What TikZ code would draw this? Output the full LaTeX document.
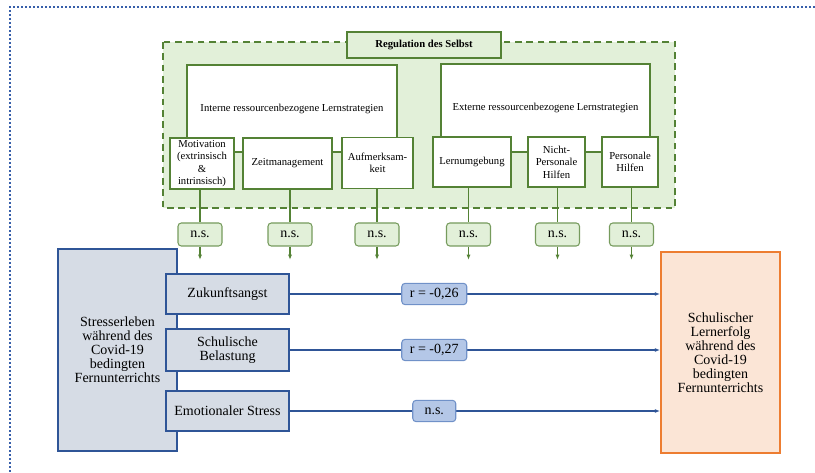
\documentclass[tikz,border=0pt]{standalone}
\usepackage{fontspec}
\setmainfont{Liberation Serif}
\usetikzlibrary{arrows.meta}

\definecolor{grnline}{RGB}{84,130,53}
\definecolor{grnfill}{RGB}{226,240,217}
\definecolor{bluline}{RGB}{47,85,151}
\definecolor{blufill}{RGB}{214,220,229}
\definecolor{lblfill}{RGB}{180,199,231}
\definecolor{lblline}{RGB}{112,145,200}
\definecolor{orgline}{RGB}{237,125,49}
\definecolor{orgfill}{RGB}{251,229,214}
\definecolor{pageline}{RGB}{55,95,170}

\tikzset{
  topfont/.style={font=\fontsize{8}{9.4}\selectfont},
  lowfont/.style={font=\fontsize{10.5}{10.5}\selectfont},
  groupbox/.style={draw=grnline, line width=1.1pt, fill=white, topfont, inner sep=0pt},
  stratbox/.style={draw=grnline, line width=1.1pt, fill=white, topfont, align=center, inner sep=0pt},
  nsgreen/.style={draw=grnline!80, line width=0.8pt, fill=grnfill, rounded corners=2.5pt, lowfont,
    minimum width=33pt, minimum height=17.25pt, inner sep=0pt},
  grnarrow/.style={draw=grnline, line width=0.9pt, -{Latex[length=4pt,width=3pt]}},
  stressbox/.style={draw=bluline, line width=1.3pt, fill=blufill, lowfont, align=center, inner sep=0pt},
  corrlabel/.style={draw=lblline, line width=0.8pt, fill=lblfill, rounded corners=2.5pt, lowfont,
    minimum height=16pt, inner sep=0pt},
  bluarrow/.style={draw=bluline, line width=0.9pt, -{Latex[length=4pt,width=3pt]}},
}

\begin{document}
\begin{tikzpicture}[x=0.75pt,y=0.75pt,yscale=-1,xscale=1]
\useasboundingbox (0,0) rectangle (815,473);

%Page frame (dotted)
\draw [pageline, line width=1.5pt, dash pattern=on 1.5pt off 1.5pt] (815,7) -- (10,7) -- (10,473) ;

%Dashed area: Regulation des Selbst
\draw [grnline, line width=1.1pt, dash pattern=on 5pt off 3.5pt, fill=grnfill] (163,42) rectangle (675,208) ;

% Title Node
\node (reg) at (424,45) [draw=grnline, line width=1pt, fill=grnfill, topfont, minimum width=115.5pt, minimum height=19.5pt, inner sep=0pt] {\textbf{Regulation des Selbst}};

% Group boxes
\node (intern) at (292,108.5) [groupbox, minimum width=157.5pt, minimum height=65.25pt] {Interne ressourcenbezogene Lernstrategien};
\node (extern) at (545.5,108) [groupbox, minimum width=156.75pt, minimum height=66pt] {Externe ressourcenbezogene Lernstrategien};

% Strategy Nodes
\node (motiv) at (202,163.5) [stratbox, minimum width=48pt, minimum height=38.25pt] {Motivation\\(extrinsisch\\\&\\intrinsisch)};
\node (zeit) at (287.5,163.5) [stratbox, minimum width=66.75pt, minimum height=38.25pt] {Zeitmanagement};
\node (aufm) at (377.5,163) [stratbox, minimum width=53.25pt, minimum height=38.25pt] {Aufmerksam-\\keit};
\node (lernumg) at (472,162) [stratbox, minimum width=58.5pt, minimum height=37.5pt] {Lernumgebung};
\node (nichtpers) at (556.5,162) [stratbox, minimum width=42.75pt, minimum height=37.5pt] {Nicht-\\Personale\\Hilfen};
\node (pers) at (630,162) [stratbox, minimum width=42pt, minimum height=37.5pt] {Personale\\Hilfen};

% n.s. Nodes
\node (nsA) at (200,234.5) [nsgreen] {n.s.};
\node (nsB) at (290,234.5) [nsgreen] {n.s.};
\node (nsC) at (377,234.5) [nsgreen] {n.s.};
\node (nsD) at (468.5,234.5) [nsgreen] {n.s.};
\node (nsE) at (557.5,234.5) [nsgreen] {n.s.};
\node (nsF) at (631.5,234.5) [nsgreen] {n.s.};
\coordinate (arrowend) at (0,260);

%Straight Lines (moderation)
\foreach \s/\n in {motiv/nsA, zeit/nsB, aufm/nsC, lernumg/nsD, nichtpers/nsE, pers/nsF}{
  \draw [grnline, line width=0.9pt] (\n.north |- \s.south) -- (\n.north) ;
  \draw [grnarrow] (\n.south) -- (\n.south |- arrowend) ;
}

% Stress Nodes
\node (stress) at (117.5,350) [stressbox, minimum width=89.25pt, minimum height=151.5pt] {Stresserleben\\während des\\Covid-19\\bedingten\\Fernunterrichts};
\node (zukunft) at (227.5,294) [stressbox, minimum width=92.25pt, minimum height=30pt] {Zukunftsangst};
\node (belast) at (227.5,350) [stressbox, minimum width=92.25pt, minimum height=31.5pt] {Schulische\\Belastung};
\node (emostress) at (227.5,411) [stressbox, minimum width=92.25pt, minimum height=30pt] {Emotionaler Stress};

% Outcome Node
\node (erfolg) at (720.5,352.5) [draw=orgline, line width=1.3pt, fill=orgfill, lowfont, align=center, minimum width=89.25pt, minimum height=150.75pt, inner sep=0pt] {Schulischer\\Lernerfolg\\während des\\Covid-19\\bedingten\\Fernunterrichts};

%Straight Lines (effects)
\draw [bluarrow] (zukunft.east) -- node [corrlabel, pos=0.39, minimum width=48.75pt] (rA) {r = -0,26} (zukunft.east -| erfolg.west) ;
\draw [bluarrow] (belast.east) -- node [corrlabel, pos=0.39, minimum width=48.75pt] (rB) {r = -0,27} (belast.east -| erfolg.west) ;
\draw [bluarrow] (emostress.east) -- node [corrlabel, pos=0.39, minimum width=32.25pt] (rC) {n.s.} (emostress.east -| erfolg.west) ;

\end{tikzpicture}
\end{document}
